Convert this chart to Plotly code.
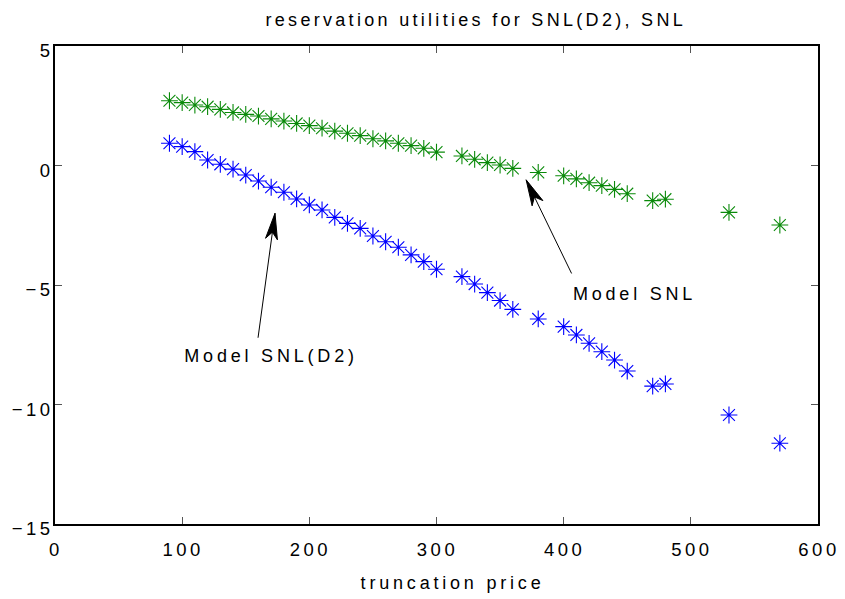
import math
import plotly.graph_objects as go

# truncation prices
price = [90, 100, 110, 120, 130, 140, 150, 160, 170, 180, 190, 200, 210, 220,
         230, 240, 250, 260, 270, 280, 290, 300, 320, 330, 340, 350, 360, 380,
         400, 410, 420, 430, 440, 450, 470, 480, 530, 570]

# reservation utilities, model SNL
snl = [2.71, 2.63, 2.53, 2.46, 2.35, 2.22, 2.14, 2.07, 1.95, 1.86, 1.76, 1.67,
       1.56, 1.44, 1.35, 1.25, 1.12, 1.03, 0.93, 0.83, 0.72, 0.56, 0.40, 0.26,
       0.12, 0.02, -0.12, -0.29, -0.43, -0.56, -0.72, -0.84, -1.00, -1.18,
       -1.47, -1.41, -1.96, -2.49]

# reservation utilities, model SNL(D2)
snl_d2 = [0.93, 0.79, 0.58, 0.23, 0.05, -0.15, -0.40, -0.65, -0.91, -1.12,
          -1.40, -1.65, -1.86, -2.17, -2.42, -2.63, -2.95, -3.19, -3.42, -3.74,
          -4.02, -4.34, -4.65, -4.96, -5.32, -5.65, -6.02, -6.42, -6.74, -7.09,
          -7.44, -7.79, -8.14, -8.60, -9.23, -9.14, -10.44, -11.62]

x_ticks = [0, 100, 200, 300, 400, 500, 600]
y_ticks = [-15, -10, -5, 0, 5]

# text callouts: label, label position, arrow tail, arrow tip
callouts = [
    ("Model SNL(D2)", (169.5, -7.97), (159.5, -7.27), (173.0, -2.0)),
    ("Model SNL", (455.5, -5.38), (406.8, -4.58), (370.5, -0.6)),
]

FONT = "Liberation Sans, Arial, sans-serif"
FS = 18

W, H = 845, 599
M = dict(l=55, r=27, t=46, b=75)
X_RANGE = [0, 600]
Y_RANGE = [-15, 5]
PLOT_W = W - M["l"] - M["r"]
PLOT_H = H - M["t"] - M["b"]
# pixels per data unit, used to shape the arrowheads
sx = PLOT_W / (X_RANGE[1] - X_RANGE[0])
sy = PLOT_H / (Y_RANGE[1] - Y_RANGE[0])


def arrowhead_path(tail, tip, length=26.0, half_width=6.0, notch=7.0):
    """Slim notched arrowhead at `tip`, pointing away from `tail`."""
    dx = (tip[0] - tail[0]) * sx
    dy = -(tip[1] - tail[1]) * sy
    n = math.hypot(dx, dy)
    ux, uy = dx / n, dy / n
    px, py = -uy, ux
    tx, ty = tip[0] * sx, -tip[1] * sy
    pts = [
        (tx, ty),
        (tx - ux * length + px * half_width, ty - uy * length + py * half_width),
        (tx - ux * (length - notch), ty - uy * (length - notch)),
        (tx - ux * length - px * half_width, ty - uy * length - py * half_width),
    ]
    data = [(x / sx, -y / sy) for x, y in pts]
    return "M " + " L ".join(f"{x:.4f},{y:.4f}" for x, y in data) + " Z"


fig = go.Figure()
fig.add_trace(go.Scatter(
    x=price, y=snl, mode="markers", name="Model SNL",
    marker=dict(symbol="asterisk-open", size=14, color="#0a8a0a",
                line=dict(color="#0a8a0a", width=1.1)),
))
fig.add_trace(go.Scatter(
    x=price, y=snl_d2, mode="markers", name="Model SNL(D2)",
    marker=dict(symbol="asterisk-open", size=14, color="#0000ff",
                line=dict(color="#0000ff", width=1.1)),
))

for label, pos, tail, tip in callouts:
    fig.add_annotation(x=tip[0], y=tip[1], ax=tail[0], ay=tail[1],
                       xref="x", yref="y", axref="x", ayref="y", text="",
                       showarrow=True, arrowhead=0, arrowwidth=1,
                       arrowcolor="black")
    fig.add_shape(type="path", xref="x", yref="y",
                  path=arrowhead_path(tail, tip),
                  fillcolor="black", line=dict(color="black", width=1))
    fig.add_annotation(x=pos[0], y=pos[1], xref="x", yref="y", text=label,
                       showarrow=False,
                       font=dict(family=FONT, size=FS, color="black"))

# x-axis title, set a little right of the axis centre
fig.add_annotation(x=(452 - M["l"]) / PLOT_W, y=-59 / PLOT_H,
                   xref="paper", yref="paper", xanchor="center",
                   yanchor="middle", text="truncation price",
                   showarrow=False, name="xtitle",
                   font=dict(family=FONT, size=FS, color="black"))

axis_common = dict(
    showline=True, linecolor="black", linewidth=1.5, mirror="ticks",
    ticks="inside", ticklen=7, tickcolor="#555555", tickwidth=1,
    showgrid=False, zeroline=False, automargin=False,
    tickfont=dict(family=FONT, size=18.5, color="black"),
)

fig.update_layout(
    width=W, height=H,
    margin=M,
    paper_bgcolor="white", plot_bgcolor="white",
    showlegend=False,
    title=dict(text="reservation utilities for SNL(D2), SNL",
               x=265.5 / W, xanchor="left", xref="container",
               y=1, yanchor="top", pad=dict(t=13),
               font=dict(family=FONT, size=FS, color="black")),
    xaxis=dict(range=X_RANGE, tickvals=x_ticks, ticklabelstandoff=8,
               ticklabelshift=1, **axis_common),
    yaxis=dict(range=Y_RANGE, tickvals=y_ticks, ticklabelstandoff=-4,
               ticklabelshift=5, **axis_common),
)

# widely tracked lettering for all chart text
spacing_css = (
    "var s=document.createElement('style');"
    "s.textContent='.main-svg text{letter-spacing:3.5px;}"
    ".main-svg .gtitle{letter-spacing:3.3px;}"
    ".main-svg .annotation-text{letter-spacing:3.8px;}';"
    "document.head.appendChild(s);"
)

fig.write_html("out.html", post_script=spacing_css)
